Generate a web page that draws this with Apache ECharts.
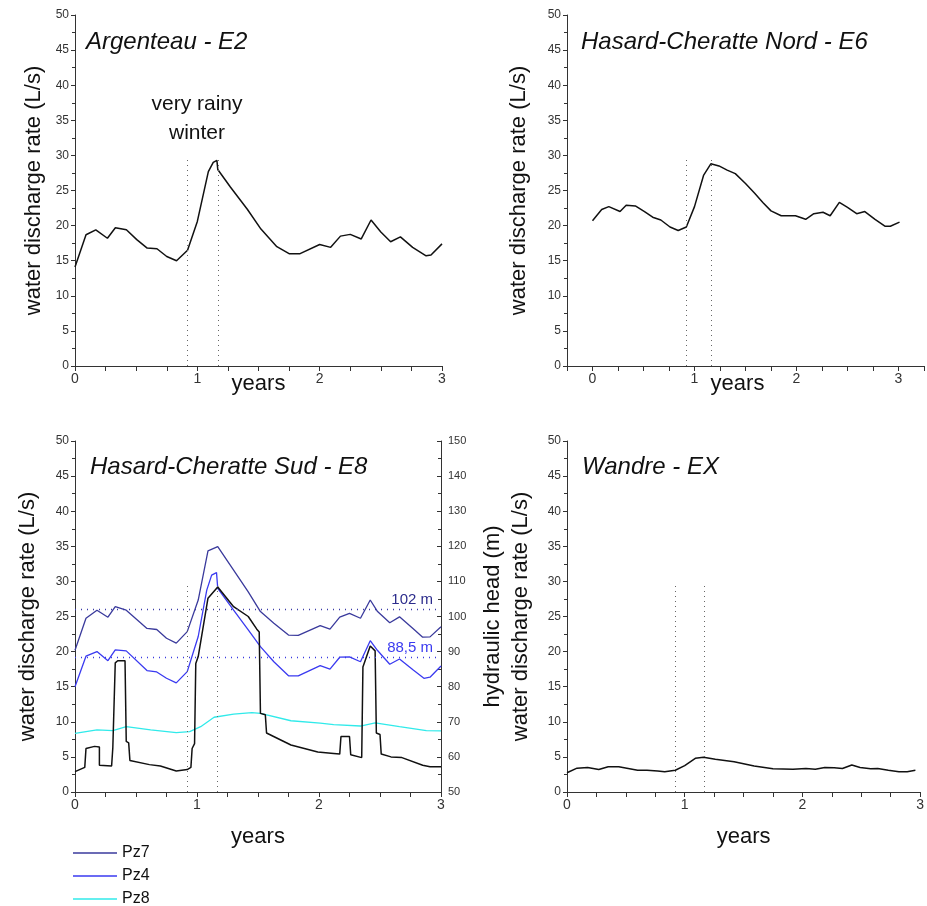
<!DOCTYPE html>
<html>
<head>
<meta charset="utf-8">
<script src="https://cdn.jsdelivr.net/npm/echarts@6/dist/echarts.min.js"></script>
<style>
  html, body { margin: 0; padding: 0; background: #fff; }
  #chart { width: 927px; height: 906px; }
</style>
</head>
<body>
<div id="chart"></div>
<script>
// Argenteau - E2
const e2Years = [0, 0.09, 0.17, 0.265, 0.33, 0.42, 0.505, 0.59, 0.67, 0.75, 0.83, 0.92, 1.0, 1.09, 1.13, 1.16, 1.167, 1.27, 1.41, 1.52, 1.65, 1.75, 1.84, 2.0, 2.09, 2.17, 2.25, 2.34, 2.42, 2.5, 2.58, 2.66, 2.76, 2.87, 2.91, 3.0];
const e2Flow = [14.1, 18.7, 19.4, 18.2, 19.7, 19.4, 18.0, 16.8, 16.7, 15.6, 15.0, 16.5, 20.6, 27.7, 29.0, 29.3, 28.0, 25.5, 22.3, 19.5, 17.0, 16.0, 16.0, 17.3, 16.9, 18.5, 18.75, 18.1, 20.8, 19.1, 17.7, 18.4, 16.9, 15.7, 15.8, 17.4];

// Hasard-Cheratte Nord - E6
const e6Years = [0, 0.09, 0.16, 0.27, 0.33, 0.42, 0.51, 0.59, 0.67, 0.76, 0.84, 0.92, 1.0, 1.09, 1.16, 1.24, 1.32, 1.40, 1.50, 1.59, 1.67, 1.75, 1.85, 1.99, 2.09, 2.17, 2.26, 2.33, 2.42, 2.50, 2.59, 2.67, 2.77, 2.87, 2.92, 3.01];
const e6Flow = [20.7, 22.3, 22.7, 22.0, 22.9, 22.8, 22.0, 21.2, 20.8, 19.8, 19.3, 19.8, 22.7, 27.2, 28.8, 28.5, 27.9, 27.4, 26.0, 24.6, 23.3, 22.1, 21.4, 21.4, 20.9, 21.7, 21.9, 21.4, 23.3, 22.6, 21.7, 22.0, 20.9, 19.9, 19.9, 20.5];

// Hasard-Cheratte Sud - E8 (discharge, L/s)
const e8Years = [0, 0.08, 0.09, 0.16, 0.2, 0.2, 0.3, 0.31, 0.33, 0.35, 0.41, 0.42, 0.44, 0.45, 0.61, 0.70, 0.83, 0.92, 0.95, 0.96, 0.98, 0.99, 1.01, 1.09, 1.17, 1.30, 1.42, 1.49, 1.51, 1.52, 1.56, 1.57, 1.77, 1.99, 2.12, 2.17, 2.18, 2.25, 2.26, 2.35, 2.36, 2.42, 2.46, 2.47, 2.5, 2.51, 2.59, 2.68, 2.85, 2.91, 3.0];
const e8Flow = [2.9, 3.5, 6.2, 6.5, 6.4, 3.8, 3.7, 6.3, 18.4, 18.7, 18.7, 7.2, 7.0, 4.5, 3.9, 3.7, 3.0, 3.2, 3.5, 6.2, 6.9, 18.3, 19.3, 27.6, 29.2, 26.4, 25.0, 23.2, 22.8, 11.2, 11.0, 8.4, 6.7, 5.7, 5.5, 5.4, 7.9, 7.9, 5.3, 4.9, 17.8, 20.8, 20.1, 8.4, 8.2, 5.4, 5.0, 4.9, 3.8, 3.6, 3.6];

// piezometers (hydraulic head, m)
const pz7Years = [0, 0.09, 0.18, 0.27, 0.33, 0.42, 0.59, 0.67, 0.75, 0.83, 0.92, 1.01, 1.09, 1.17, 1.30, 1.42, 1.52, 1.63, 1.75, 1.83, 2.01, 2.09, 2.17, 2.25, 2.34, 2.42, 2.48, 2.58, 2.66, 2.77, 2.85, 2.91, 3.0];
const pz7Head = [90.4, 99.5, 101.8, 99.8, 102.8, 101.8, 96.6, 96.3, 93.8, 92.4, 95.7, 104.7, 118.7, 119.9, 113.2, 107.0, 101.4, 98.1, 94.7, 94.6, 97.4, 96.4, 99.8, 100.9, 99.5, 104.7, 101.4, 98.2, 99.9, 96.6, 94.1, 94.2, 97.1];
const pz4Years = [0, 0.09, 0.18, 0.27, 0.33, 0.42, 0.59, 0.67, 0.75, 0.83, 0.92, 1.01, 1.08, 1.12, 1.16, 1.17, 1.30, 1.42, 1.52, 1.63, 1.75, 1.83, 2.01, 2.09, 2.17, 2.25, 2.34, 2.42, 2.48, 2.58, 2.66, 2.77, 2.86, 2.91, 3.0];
const pz4Head = [80.0, 88.7, 90.0, 87.4, 90.5, 90.2, 84.6, 84.2, 82.4, 81.1, 84.3, 94.3, 107.5, 111.8, 112.5, 108.0, 101.8, 96.2, 91.4, 87.1, 83.1, 83.1, 86.0, 85.0, 88.4, 88.5, 87.1, 93.1, 90.3, 86.4, 87.9, 84.8, 82.4, 82.7, 85.9];
const pz8Years = [0, 0.18, 0.31, 0.42, 0.62, 0.83, 0.94, 1.03, 1.14, 1.30, 1.45, 1.52, 1.77, 2.01, 2.12, 2.34, 2.46, 2.66, 2.88, 3.0];
const pz8Head = [66.7, 67.7, 67.5, 68.6, 67.7, 66.9, 67.2, 68.6, 71.3, 72.2, 72.6, 72.4, 70.3, 69.6, 69.2, 68.8, 69.7, 68.6, 67.5, 67.4];
const headLevels = [102, 88.5];
const headLabels = ['102 m', '88,5 m'];

// Wandre - EX
const exYears = [0, 0.085, 0.175, 0.27, 0.35, 0.44, 0.60, 0.68, 0.77, 0.83, 0.92, 1.0, 1.09, 1.16, 1.26, 1.42, 1.59, 1.75, 1.92, 2.03, 2.11, 2.19, 2.27, 2.34, 2.42, 2.49, 2.58, 2.64, 2.73, 2.82, 2.89, 2.96];
const exFlow = [2.75, 3.4, 3.5, 3.2, 3.6, 3.6, 3.1, 3.1, 3.0, 2.9, 3.1, 3.75, 4.8, 4.95, 4.65, 4.3, 3.7, 3.3, 3.25, 3.35, 3.25, 3.5, 3.45, 3.35, 3.85, 3.5, 3.3, 3.35, 3.1, 2.9, 2.9, 3.1];

// very rainy winter limits (years) and height of the dotted markers (L/s)
const winterBounds = [0.92, 1.167];
const winterTop = 29.5;

const panelTitles = ['Argenteau - E2', 'Hasard-Cheratte Nord - E6', 'Hasard-Cheratte Sud - E8', 'Wandre - EX'];

const zip = (xs, ys) => xs.map((x, i) => [x, ys[i]]);
const font = 'Liberation Sans, Arial, sans-serif';
const axisColor = '#333';

const winterMarks = {
  silent: true,
  symbol: 'none',
  label: { show: false },
  lineStyle: { color: '#666', type: [1, 4], width: 1 },
  data: winterBounds.map(x => [{ coord: [x, 0] }, { coord: [x, winterTop] }])
};

function xAxisFor(grid, min, max, gap, shift) {
  return {
    type: 'value', gridIndex: grid, min: min, max: max, interval: 0.25,
    name: 'years', nameLocation: 'middle', nameGap: gap, nameMoveOverlap: false,
    nameTextStyle: { fontSize: 22, color: '#111', fontFamily: font, padding: [0, shift || 0, 0, 0] },
    axisLine: { onZero: false, lineStyle: { color: axisColor } },
    axisTick: { length: 5, lineStyle: { color: axisColor } },
    axisLabel: {
      fontSize: 14, color: '#333', fontFamily: font, margin: 6,
      formatter: v => Number.isInteger(v) ? String(v) : ''
    },
    splitLine: { show: false }
  };
}

function yAxisFor(grid, name, gap, extra) {
  return Object.assign({
    type: 'value', gridIndex: grid, min: 0, max: 50, interval: 5,
    name: name, nameLocation: 'middle', nameGap: gap, nameMoveOverlap: false,
    nameTextStyle: { fontSize: 22, color: '#111', fontFamily: font, lineHeight: 28 },
    axisLine: { show: true, onZero: false, lineStyle: { color: axisColor } },
    axisTick: { length: 4, lineStyle: { color: axisColor } },
    minorTick: { show: true, splitNumber: 2, length: 3, lineStyle: { color: axisColor } },
    axisLabel: { fontSize: 12, color: '#333', fontFamily: font, margin: 6 },
    splitLine: { show: false }
  }, extra || {});
}

const flowLine = { color: '#111', width: 1.5 };

const chart = echarts.init(document.getElementById('chart'));
chart.setOption({
  backgroundColor: '#fff',
  animation: false,
  title: [
    { text: panelTitles[0], left: 86, top: 30 },
    { text: panelTitles[1], left: 581, top: 30 },
    { text: panelTitles[2], left: 90, top: 455 },
    { text: panelTitles[3], left: 582, top: 455 }
  ].map(t => Object.assign(t, {
    padding: 0,
    textStyle: { fontSize: 24, fontStyle: 'italic', fontWeight: 'normal', color: '#111', fontFamily: font }
  })),
  graphic: [{
    type: 'text', x: 197, y: 90,
    style: {
      text: 'very rainy\nwinter', textAlign: 'center',
      fontSize: 21, lineHeight: 29, fill: '#111', fontFamily: font
    }
  }],
  legend: {
    data: ['Pz7', 'Pz4', 'Pz8'],
    orient: 'vertical', left: 73, top: 844, height: 120, padding: 0,
    icon: 'rect', itemWidth: 44, itemHeight: 1.5, itemGap: 5,
    textStyle: { fontSize: 16, color: '#111', fontFamily: font, lineHeight: 18 }
  },
  grid: [
    { left: 75, top: 15, width: 367, height: 351 },
    { left: 567, top: 15, width: 366.5, height: 351 },
    { left: 75, top: 441, width: 366, height: 351 },
    { left: 567, top: 441, width: 364.5, height: 351 }
  ],
  xAxis: [
    xAxisFor(0, 0, 3, 7),
    xAxisFor(1, -0.25, 3.25, 7, 16),
    xAxisFor(2, 0, 3, 34),
    xAxisFor(3, 0, 3, 34)
  ],
  yAxis: [
    yAxisFor(0, 'water discharge rate (L/s)', 27),
    yAxisFor(1, 'water discharge rate (L/s)', 34),
    yAxisFor(2, 'water discharge rate (L/s)', 33),
    yAxisFor(3, 'hydraulic head (m)\nwater discharge rate (L/s)', 32),
    yAxisFor(2, '', 0, {
      position: 'right', min: 50, max: 150, interval: 10,
      axisTick: { inside: true, length: 4, lineStyle: { color: axisColor } },
      minorTick: { show: true, splitNumber: 2, length: 3, lineStyle: { color: axisColor } },
      axisLabel: { fontSize: 11, color: '#333', fontFamily: font, margin: 7 }
    })
  ],
  series: [
    {
      name: 'E2', type: 'line', xAxisIndex: 0, yAxisIndex: 0, symbol: 'none',
      lineStyle: flowLine, data: zip(e2Years, e2Flow), markLine: winterMarks
    },
    {
      name: 'E6', type: 'line', xAxisIndex: 1, yAxisIndex: 1, symbol: 'none',
      lineStyle: flowLine, data: zip(e6Years, e6Flow), markLine: winterMarks
    },
    {
      name: 'Pz7', type: 'line', xAxisIndex: 2, yAxisIndex: 4, symbol: 'none',
      color: '#3a3a9c', lineStyle: { width: 1.3 }, data: zip(pz7Years, pz7Head),
      markLine: {
        silent: true, symbol: 'none',
        lineStyle: { color: '#3a3aa8', type: [1, 5], width: 1.3 },
        label: { position: 'insideEndTop', formatter: headLabels[0], color: '#2c2c8c', fontSize: 15, fontFamily: font, distance: [8, 2] },
        data: [{ yAxis: headLevels[0] }]
      }
    },
    {
      name: 'Pz4', type: 'line', xAxisIndex: 2, yAxisIndex: 4, symbol: 'none',
      color: '#3a3af0', lineStyle: { width: 1.3 }, data: zip(pz4Years, pz4Head),
      markLine: {
        silent: true, symbol: 'none',
        lineStyle: { color: '#3a3ae0', type: [1, 5], width: 1.3 },
        label: { position: 'insideEndTop', formatter: headLabels[1], color: '#3a3af0', fontSize: 15, fontFamily: font, distance: [8, 2] },
        data: [{ yAxis: headLevels[1] }]
      }
    },
    {
      name: 'Pz8', type: 'line', xAxisIndex: 2, yAxisIndex: 4, symbol: 'none',
      color: '#30eaea', lineStyle: { width: 1.3 }, data: zip(pz8Years, pz8Head)
    },
    {
      name: 'E8', type: 'line', xAxisIndex: 2, yAxisIndex: 2, symbol: 'none',
      lineStyle: flowLine, data: zip(e8Years, e8Flow), markLine: winterMarks
    },
    {
      name: 'EX', type: 'line', xAxisIndex: 3, yAxisIndex: 3, symbol: 'none',
      lineStyle: flowLine, data: zip(exYears, exFlow), markLine: winterMarks
    }
  ]
});
</script>
</body>
</html>
